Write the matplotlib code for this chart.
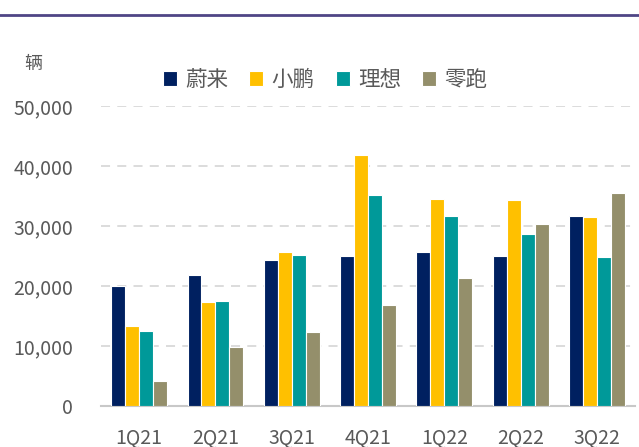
import numpy as np
import matplotlib
matplotlib.use('Agg')
import matplotlib.pyplot as plt
from matplotlib.lines import Line2D

plt.rcParams['font.family'] = ['Noto Sans CJK SC', 'DejaVu Sans']

quarters = ['1Q21', '2Q21', '3Q21', '4Q21', '1Q22', '2Q22', '3Q22']
nio = [20060, 21896, 24439, 25034, 25768, 25059, 31607]
xpeng = [13340, 17398, 25666, 41751, 34561, 34422, 31500]
li = [12579, 17575, 25116, 35221, 31716, 28687, 24900]
leap = [4200, 9900, 12400, 16900, 21400, 30300, 35500]

names = ['蔚来', '小鹏', '理想', '零跑']
colors = ['#002060', '#FFC000', '#009999', '#948F6B']
series = [nio, xpeng, li, leap]

fig = plt.figure(figsize=(6.39, 4.47), dpi=100)
ax = fig.add_axes([0.158, 0.091, 0.836, 0.672])

x = np.arange(len(quarters))
w = 0.183
for i, (vals, c, n) in enumerate(zip(series, colors, names)):
    ax.bar(x + (i - 1.5) * w, vals, width=w, color=c, edgecolor='white',
           linewidth=0.8, label=n, zorder=3)

ax.set_xlim(-0.5, len(quarters) - 0.5)
ax.set_ylim(0, 50000)
ax.set_yticks(np.arange(0, 50001, 10000))
ax.set_yticklabels([f'{v:,}' for v in range(0, 50001, 10000)])
ax.set_xticks(x)
ax.set_xticklabels(quarters)
ax.tick_params(axis='both', length=0, labelsize=14, colors='#595959')
ax.tick_params(axis='x', pad=15)
ax.tick_params(axis='y', pad=20)

ax.yaxis.grid(True, color='#D9D9D9', linestyle=(0, (5, 4)), linewidth=1.3, zorder=0)
for s in ['top', 'right', 'left']:
    ax.spines[s].set_visible(False)
ax.spines['bottom'].set_color('#C8C8C8')
ax.spines['bottom'].set_linewidth(1.5)

leg = fig.legend(*ax.get_legend_handles_labels(), loc='center left',
                 bbox_to_anchor=(163 / 639, 1 - 80 / 447), ncol=4, frameon=False,
                 borderpad=0, borderaxespad=0,
                 handlelength=0.65, handleheight=0.65, handletextpad=0.37,
                 columnspacing=1.0, fontsize=15.5)
for t in leg.get_texts():
    t.set_color('#595959')

fig.text(24 / 639, 1 - 64 / 447, '辆', fontsize=13, color='#595959', ha='left', va='center')

fig.add_artist(Line2D([0, 1], [1 - 15 / 447, 1 - 15 / 447], color='#4F4585',
                      linewidth=2, transform=fig.transFigure))

fig.savefig('out.png', dpi=100)
